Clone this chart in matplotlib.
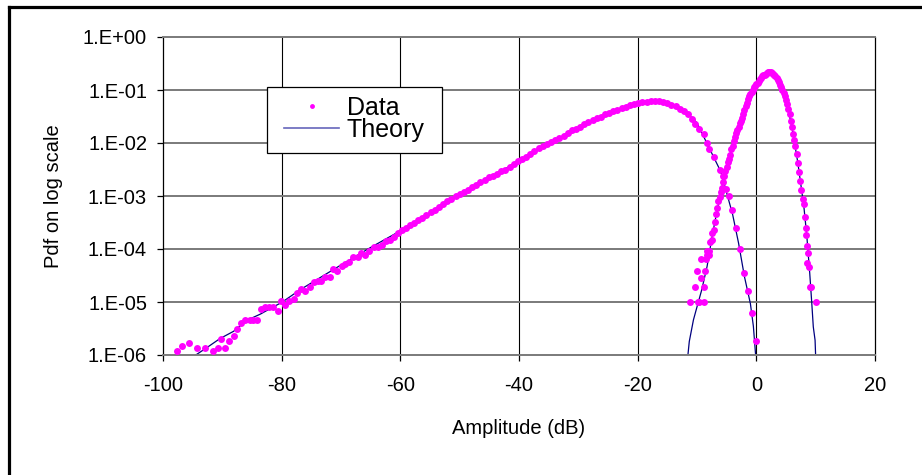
import matplotlib
matplotlib.use("Agg")
import matplotlib.pyplot as plt
from matplotlib.lines import Line2D
from matplotlib.patches import Rectangle
from matplotlib.ticker import FixedLocator, NullLocator

plt.rcParams['font.family'] = ['Liberation Sans', 'DejaVu Sans']
plt.rcParams['axes.unicode_minus'] = False

# ---- data ----
# broad curve (measured points)
wide_x = [-97.7, -96.8, -95.6, -94.2, -92.9, -91.5, -90.8, -90.2, -89.5, -88.8,
          -88.1, -87.5, -86.8, -86.2, -85.4, -84.8, -84.1, -83.5, -82.8, -82.1,
          -81.4, -80.7, -80.1, -79.4, -78.8, -78.0, -77.4, -76.7, -76.0, -75.3,
          -74.6, -73.9, -73.3, -72.7, -71.9, -71.3, -70.6, -69.9, -69.3, -68.6,
          -67.9, -67.2, -66.6, -65.9, -65.2, -64.5, -63.8, -63.1, -62.5, -61.8,
          -61.1, -60.4, -59.8, -59.1, -58.4, -57.7, -57.0, -56.3, -55.6, -54.9,
          -54.2, -53.5, -52.8, -52.1, -51.4, -50.7, -50.0, -49.3, -48.6, -47.9,
          -47.2, -46.5, -45.8, -45.1, -44.4, -43.7, -43.0, -42.3, -41.6, -40.9,
          -40.2, -39.5, -38.8, -38.1, -37.4, -36.7, -36.0, -35.3, -34.6, -33.9,
          -33.2, -32.5, -31.8, -31.1, -30.4, -29.7, -29.0, -28.3, -27.6, -26.9,
          -26.2, -25.5, -24.8, -24.1, -23.4, -22.7, -22.0, -21.3, -20.6, -19.9,
          -19.2, -18.5, -17.8, -17.1, -16.4, -15.7, -15.0, -14.3, -13.6, -12.9,
          -12.2, -11.5, -10.9, -10.3, -9.6, -8.9, -8.3, -7.9, -7.2, -6.2,
          -5.6, -5.1, -4.6, -4.1, -3.5, -2.8, -2.1, -1.4, -0.7, -0.05]
wide_y = [1.2e-6, 1.45e-6, 1.7e-6, 1.35e-6, 1.35e-6, 1.2e-6, 1.35e-6, 2.0e-6, 1.35e-6, 1.85e-6,
          2.25e-6, 3.1e-6, 4.0e-6, 4.5e-6, 4.5e-6, 4.5e-6, 4.5e-6, 7.4e-6, 7.9e-6, 7.9e-6,
          7.9e-6, 6.8e-6, 1.05e-5, 8.7e-6, 1.05e-5, 1.12e-5, 1.5e-5, 1.78e-5, 1.62e-5, 1.95e-5,
          2.35e-5, 2.5e-5, 2.5e-5, 3.0e-5, 3.0e-5, 4.2e-5, 3.8e-5, 4.8e-5, 5.1e-5, 5.6e-5,
          7.1e-5, 7.1e-5, 8.5e-5, 7.8e-5, 9.3e-5, 1.1e-4, 1.1e-4, 1.17e-4, 1.41e-4, 1.51e-4,
          1.7e-4, 2.0e-4, 2.24e-4, 2.5e-4, 2.8e-4, 3.1e-4, 3.5e-4, 3.9e-4, 4.3e-4, 4.9e-4,
          5.5e-4, 6.3e-4, 7.1e-4, 8.1e-4, 8.9e-4, 9.8e-4, 1.1e-3, 1.2e-3, 1.32e-3, 1.48e-3,
          1.62e-3, 1.82e-3, 2.0e-3, 2.24e-3, 2.4e-3, 2.63e-3, 2.9e-3, 3.16e-3, 3.55e-3, 4.0e-3,
          4.5e-3, 5.0e-3, 5.5e-3, 6.2e-3, 7.1e-3, 7.9e-3, 8.7e-3, 9.5e-3, 1.05e-2, 1.15e-2,
          1.26e-2, 1.38e-2, 1.55e-2, 1.74e-2, 1.86e-2, 2.04e-2, 2.24e-2, 2.45e-2, 2.7e-2, 2.95e-2,
          3.16e-2, 3.47e-2, 3.7e-2, 3.98e-2, 4.27e-2, 4.57e-2, 4.8e-2, 5.1e-2, 5.4e-2, 5.6e-2,
          5.9e-2, 6.0e-2, 6.15e-2, 6.15e-2, 6.15e-2, 6.0e-2, 5.6e-2, 5.25e-2, 4.9e-2, 4.45e-2,
          4.1e-2, 3.55e-2, 2.8e-2, 2.3e-2, 1.8e-2, 1.48e-2, 1.0e-2, 7.6e-3, 5.4e-3, 3.1e-3,
          2.4e-3, 1.35e-3, 1.02e-3, 5.5e-4, 2.45e-4, 1.0e-4, 3.5e-5, 1.6e-5, 6.2e-6, 1.8e-6]

# narrow curve (measured points)
narrow_x = [-11.25, -9.9, -9.6, -8.9, -10.3, -8.9, -9.3, -10.0, -8.6, -9.3,
            -8.5, -8.3, -8.0, -8.3, -7.9, -7.8, -7.5, -7.5, -7.2, -7.0,
            -6.8, -6.6, -6.4, -6.2, -6.0, -5.8, -5.6, -5.4, -5.2, -5.0,
            -4.8, -4.6, -4.4, -4.2, -4.0, -3.8, -3.6, -3.4, -3.2, -3.0,
            -2.8, -2.6, -2.4, -2.2, -2.0, -1.8, -1.6, -1.4, -1.2, -1.0,
            -0.8, -0.6, -0.4, -0.2, 0.0, 0.2, 0.4, 0.6, 0.8, 1.0,
            1.2, 1.4, 1.6, 1.8, 2.0, 2.2, 2.4, 2.6, 2.8, 3.0,
            3.2, 3.4, 3.6, 3.8, 4.0, 4.2, 4.4, 4.6, 4.8, 5.0,
            5.2, 5.4, 5.6, 5.8, 6.0, 6.2, 6.4, 6.6, 6.8, 7.0,
            7.2, 7.4, 7.6, 7.8, 8.0, 8.2, 8.3, 8.45, 8.5, 8.7,
            8.6, 8.9, 9.1, 9.25, 10.0]
narrow_y = [9.8e-6, 9.8e-6, 9.8e-6, 9.8e-6, 1.95e-5, 1.95e-5, 2.8e-5, 3.9e-5, 3.9e-5, 6.5e-5,
            6.5e-5, 7.8e-5, 7.8e-5, 9.3e-5, 9.3e-5, 1.38e-4, 1.48e-4, 2.0e-4, 2.3e-4, 3.2e-4,
            4.5e-4, 6.0e-4, 7.9e-4, 9.5e-4, 1.17e-3, 1.4e-3, 1.8e-3, 2.4e-3, 2.95e-3, 3.55e-3,
            4.3e-3, 5.0e-3, 6.0e-3, 7.6e-3, 8.9e-3, 1.1e-2, 1.29e-2, 1.55e-2, 1.78e-2, 2.04e-2,
            2.34e-2, 2.63e-2, 3.0e-2, 3.55e-2, 4.2e-2, 5.0e-2, 5.75e-2, 6.8e-2, 7.6e-2, 8.5e-2,
            9.3e-2, 0.102, 0.112, 0.12, 0.129, 0.138, 0.151, 0.162, 0.17, 0.182,
            0.19, 0.195, 0.2, 0.209, 0.214, 0.214, 0.214, 0.209, 0.2, 0.19,
            0.182, 0.17, 0.155, 0.141, 0.126, 0.112, 0.1, 8.7e-2, 7.8e-2, 6.5e-2,
            5.4e-2, 4.4e-2, 3.5e-2, 2.6e-2, 2.0e-2, 1.5e-2, 1.15e-2, 8.7e-3, 6.3e-3, 4.2e-3,
            2.8e-3, 1.9e-3, 1.32e-3, 8.7e-4, 7.1e-4, 4.0e-4, 2.5e-4, 1.8e-4, 1.12e-4, 8.3e-5,
            5.4e-5, 4.5e-5, 1.95e-5, 1.95e-5, 9.8e-6]

# theory curves
theory_wide_x = [-94.9, -92.6, -90.4, -88.1, -85.9, -83.6, -81.4, -80.0, -76.9, -70.0,
                 -65.0, -60.0, -55.0, -50.0, -45.0, -40.0, -35.0, -30.0, -25.0, -22.0,
                 -20.0, -18.0, -16.0, -14.0, -12.0, -10.0, -8.0, -6.0, -5.0, -4.0,
                 -3.0, -2.0, -1.0, -0.5, -0.1]
theory_wide_y = [9.3e-7, 1.38e-6, 2.04e-6, 2.8e-6, 4.5e-6, 5.9e-6, 8.1e-6, 9.8e-6, 1.7e-5, 5.0e-5,
                 1.07e-4, 2.2e-4, 4.5e-4, 1.07e-3, 2.2e-3, 4.6e-3, 9.8e-3, 1.95e-2, 3.55e-2, 4.8e-2,
                 5.6e-2, 6.1e-2, 6.1e-2, 5.3e-2, 4.0e-2, 2.4e-2, 8.3e-3, 2.9e-3, 1.15e-3, 4.5e-4,
                 1.3e-4, 3.0e-5, 9.3e-6, 3.5e-6, 9.3e-7]
theory_narrow_x = [-11.55, -11.3, -10.6, -10.0, -9.2, -8.3, -7.5, -7.0, -6.0, -5.0,
                   -4.0, -3.0, -2.0, -1.0, 0.0, 1.0, 2.0, 3.0, 4.0, 5.0,
                   6.0, 7.0, 8.0, 8.5, 9.0, 9.35, 9.6, 9.9, 10.0]
theory_narrow_y = [9.5e-7, 1.8e-6, 4.6e-6, 8.1e-6, 1.7e-5, 4.7e-5, 1.6e-4, 3.2e-4, 1.15e-3, 3.5e-3,
                   8.9e-3, 2.0e-2, 4.2e-2, 8.5e-2, 0.129, 0.18, 0.212, 0.19, 0.126, 6.5e-2,
                   2.0e-2, 4.2e-3, 6.5e-4, 1.8e-4, 3.5e-5, 9.3e-6, 3.4e-6, 1.9e-6, 9.3e-7]

y_ticks = [1e-6, 1e-5, 1e-4, 1e-3, 1e-2, 1e-1, 1e0]
y_tick_labels = ['1.E-06', '1.E-05', '1.E-04', '1.E-03', '1.E-02', '1.E-01', '1.E+00']
x_ticks = [-100, -80, -60, -40, -20, 0, 20]

# ---- figure ----
fig = plt.figure(figsize=(9.22, 4.75), dpi=100)
ax = fig.add_axes([163 / 922, 1 - 355 / 475, 712 / 922, 318 / 475])

# theory lines under the data markers
ax.plot(theory_wide_x, theory_wide_y, color='#000080', lw=0.9, zorder=2)
ax.plot(theory_narrow_x, theory_narrow_y, color='#000080', lw=0.9, zorder=2)
ax.plot(wide_x, wide_y, ls='none', marker='o', ms=5, color='#ff00ff', mew=0, zorder=3)
ax.plot(narrow_x, narrow_y, ls='none', marker='o', ms=5, color='#ff00ff', mew=0, zorder=3)

ax.set_yscale('log')
ax.set_xlim(-100, 20)
ax.set_ylim(1e-6, 1)
ax.yaxis.set_major_locator(FixedLocator(y_ticks))
ax.yaxis.set_minor_locator(NullLocator())
ax.set_yticklabels(y_tick_labels)
ax.set_xticks(x_ticks)
ax.set_xticklabels([str(v) for v in x_ticks])

# grid: black verticals, gray horizontals
for xv in x_ticks[1:-1]:
    ax.axvline(xv, color='black', lw=0.8, zorder=1)
for yv in y_ticks[1:-1]:
    ax.axhline(yv, color='#7a7a7a', lw=1.4, zorder=1)

ax.spines['top'].set_color('#7a7a7a')
ax.spines['top'].set_linewidth(1.4)
ax.spines['bottom'].set_color('#7a7a7a')
ax.spines['bottom'].set_linewidth(1.4)
ax.spines['left'].set_color('black')
ax.spines['left'].set_linewidth(0.9)
ax.spines['right'].set_color('black')
ax.spines['right'].set_linewidth(0.9)

ax.tick_params(axis='both', direction='out', length=4.5, width=0.9,
               labelsize=14.5, colors='black')
ax.tick_params(axis='y', pad=7)
ax.tick_params(axis='x', pad=10.5)

ax.set_xlabel('Amplitude (dB)', fontsize=14.5, va='center')
ax.xaxis.set_label_coords(0.5, (355 - 428) / 318)
ax.set_ylabel('Pdf on log scale', fontsize=14.5, va='center')
ax.yaxis.set_label_coords((53 - 163) / 712, 0.5)

# legend: white box with a black edge, entries centred inside it
box = Rectangle(((267 - 163) / 712, (355 - 153) / 318), 175 / 712, 66 / 318,
                transform=ax.transAxes, facecolor='white', edgecolor='black',
                lw=0.9, zorder=4)
ax.add_patch(box)
handles = [Line2D([], [], ls='none', marker='o', ms=3.5, color='#ff00ff', mew=0),
           Line2D([], [], color='#6666bb', lw=1.2)]
leg = ax.legend(handles, ['Data', 'Theory'], loc='center',
                bbox_to_anchor=(((267 + 442) / 2 - 163) / 712, (355 - 119) / 318),
                frameon=False, fontsize=18, handlelength=2.2, handletextpad=0.3,
                labelspacing=-0.08, borderpad=0)
leg.set_zorder(5)

# outer chart border (top and left edges only are in frame)
fig.add_artist(Line2D([8.5 / 922, 1], [1 - 6.5 / 475, 1 - 6.5 / 475], color='black', lw=2.3))
fig.add_artist(Line2D([8.5 / 922, 8.5 / 922], [0, 1 - 6.5 / 475], color='black', lw=2.3))

fig.savefig('out.png', dpi=100)
